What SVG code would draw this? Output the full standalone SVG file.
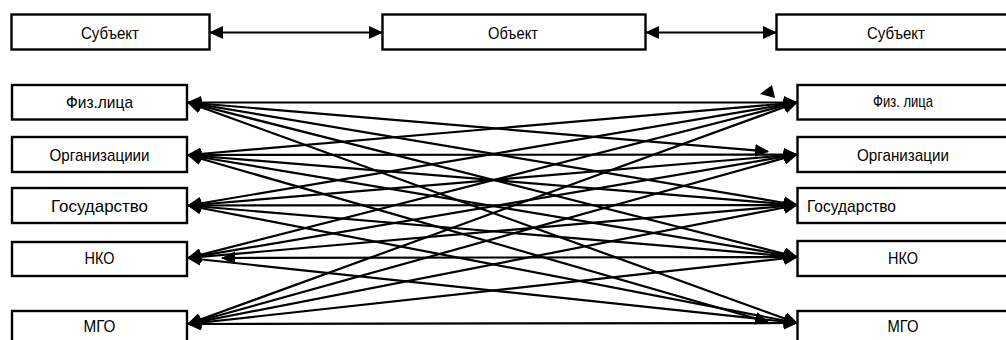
<svg xmlns="http://www.w3.org/2000/svg" width="1006" height="340" viewBox="0 0 1006 340">
<style>
.box{fill:#fff;stroke:#000;stroke-width:2.4}
.t{font-family:"Liberation Sans",Arial,sans-serif;font-size:17px;fill:#000;text-anchor:middle}
.tl{text-anchor:start}
.c{stroke:#000;stroke-width:2.2;fill:none;marker-start:url(#ah);marker-end:url(#ah)}
</style>
<defs>
<marker id="ah" markerUnits="userSpaceOnUse" viewBox="0 0 14 13" markerWidth="14" markerHeight="13" refX="13" refY="6.5" orient="auto-start-reverse">
<path d="M0,0 L14,6.5 L0,13 z" fill="#000"/>
</marker>
</defs>
<g id="connectors">
<line class="c" x1="210" y1="32.5" x2="382" y2="32.5"/>
<line class="c" x1="646" y1="32.5" x2="776" y2="32.5"/>
<line class="c" x1="188" y1="102.5" x2="797" y2="102.5"/>
<line class="c" x1="188" y1="102.5" x2="768" y2="151.5"/>
<line class="c" x1="188" y1="102.5" x2="797" y2="205"/>
<line class="c" x1="188" y1="102.5" x2="797" y2="257"/>
<line class="c" x1="188" y1="102.5" x2="797" y2="323"/>
<line class="c" x1="188" y1="155" x2="797" y2="102.5"/>
<line class="c" x1="188" y1="155" x2="797" y2="154.5"/>
<line class="c" x1="188" y1="155" x2="797" y2="205"/>
<line class="c" x1="188" y1="155" x2="797" y2="257"/>
<line class="c" x1="188" y1="155" x2="768" y2="322"/>
<line class="c" x1="188" y1="205.5" x2="797" y2="102.5"/>
<line class="c" x1="188" y1="205.5" x2="797" y2="154.5"/>
<line class="c" x1="188" y1="205.5" x2="797" y2="205"/>
<line class="c" x1="188" y1="205.5" x2="797" y2="257"/>
<line class="c" x1="188" y1="205.5" x2="797" y2="323"/>
<line class="c" x1="188" y1="258" x2="797" y2="102.5"/>
<line class="c" x1="188" y1="258" x2="797" y2="154.5"/>
<line class="c" x1="188" y1="258" x2="797" y2="205"/>
<line class="c" x1="222" y1="258" x2="797" y2="257"/>
<line class="c" x1="188" y1="258" x2="797" y2="323"/>
<line class="c" x1="188" y1="324" x2="797" y2="102.5"/>
<line class="c" x1="188" y1="324" x2="797" y2="154.5"/>
<line class="c" x1="188" y1="324" x2="797" y2="205"/>
<line class="c" x1="188" y1="324" x2="797" y2="257"/>
<line class="c" x1="188" y1="324" x2="797" y2="323"/>
<polygon points="772,85 760,94 775,98" fill="#000"/>
</g>
<g id="n-subject-left"><rect class="box" x="11.5" y="14.5" width="198" height="35"/><text class="t" x="110" y="38.5" textLength="58" lengthAdjust="spacingAndGlyphs">Субъект</text></g>
<g id="n-object"><rect class="box" x="382.5" y="14.5" width="263" height="35"/><text class="t" x="513" y="38.5" textLength="50" lengthAdjust="spacingAndGlyphs">Объект</text></g>
<g id="n-subject-right"><rect class="box" x="776.5" y="14.5" width="240" height="35"/><text class="t" x="896" y="38.5" textLength="58" lengthAdjust="spacingAndGlyphs">Субъект</text></g>
<g id="n-l-fiz"><rect class="box" x="12" y="85" width="175" height="34.5"/><text class="t" x="99.5" y="108" textLength="67" lengthAdjust="spacingAndGlyphs">Физ.лица</text></g>
<g id="n-l-org"><rect class="box" x="12" y="137" width="175" height="35"/><text class="t" x="99.5" y="161" textLength="100" lengthAdjust="spacingAndGlyphs">Организациии</text></g>
<g id="n-l-gos"><rect class="box" x="12" y="188" width="175" height="35"/><text class="t" x="99.5" y="211.5" textLength="97" lengthAdjust="spacingAndGlyphs">Государство</text></g>
<g id="n-l-nko"><rect class="box" x="12" y="242" width="175" height="34"/><text class="t" x="99.5" y="263.5" textLength="30" lengthAdjust="spacingAndGlyphs">НКО</text></g>
<g id="n-l-mgo"><rect class="box" x="12" y="311" width="175" height="36"/><text class="t" x="99.5" y="332" textLength="32" lengthAdjust="spacingAndGlyphs">МГО</text></g>
<g id="n-r-fiz"><rect class="box" x="797.5" y="85" width="215" height="34.5"/><text class="t" x="903" y="107" textLength="60" lengthAdjust="spacingAndGlyphs">Физ. лица</text></g>
<g id="n-r-org"><rect class="box" x="797.5" y="137" width="215" height="35"/><text class="t" x="903" y="161" textLength="92" lengthAdjust="spacingAndGlyphs">Организации</text></g>
<g id="n-r-gos"><rect class="box" x="797.5" y="188" width="215" height="35"/><text class="t tl" x="807" y="211.5" textLength="89" lengthAdjust="spacingAndGlyphs">Государство</text></g>
<g id="n-r-nko"><rect class="box" x="797.5" y="241" width="215" height="35"/><text class="t" x="903" y="263.5" textLength="30" lengthAdjust="spacingAndGlyphs">НКО</text></g>
<g id="n-r-mgo"><rect class="box" x="797.5" y="311" width="215" height="36"/><text class="t" x="903" y="332" textLength="31" lengthAdjust="spacingAndGlyphs">МГО</text></g>
</svg>
